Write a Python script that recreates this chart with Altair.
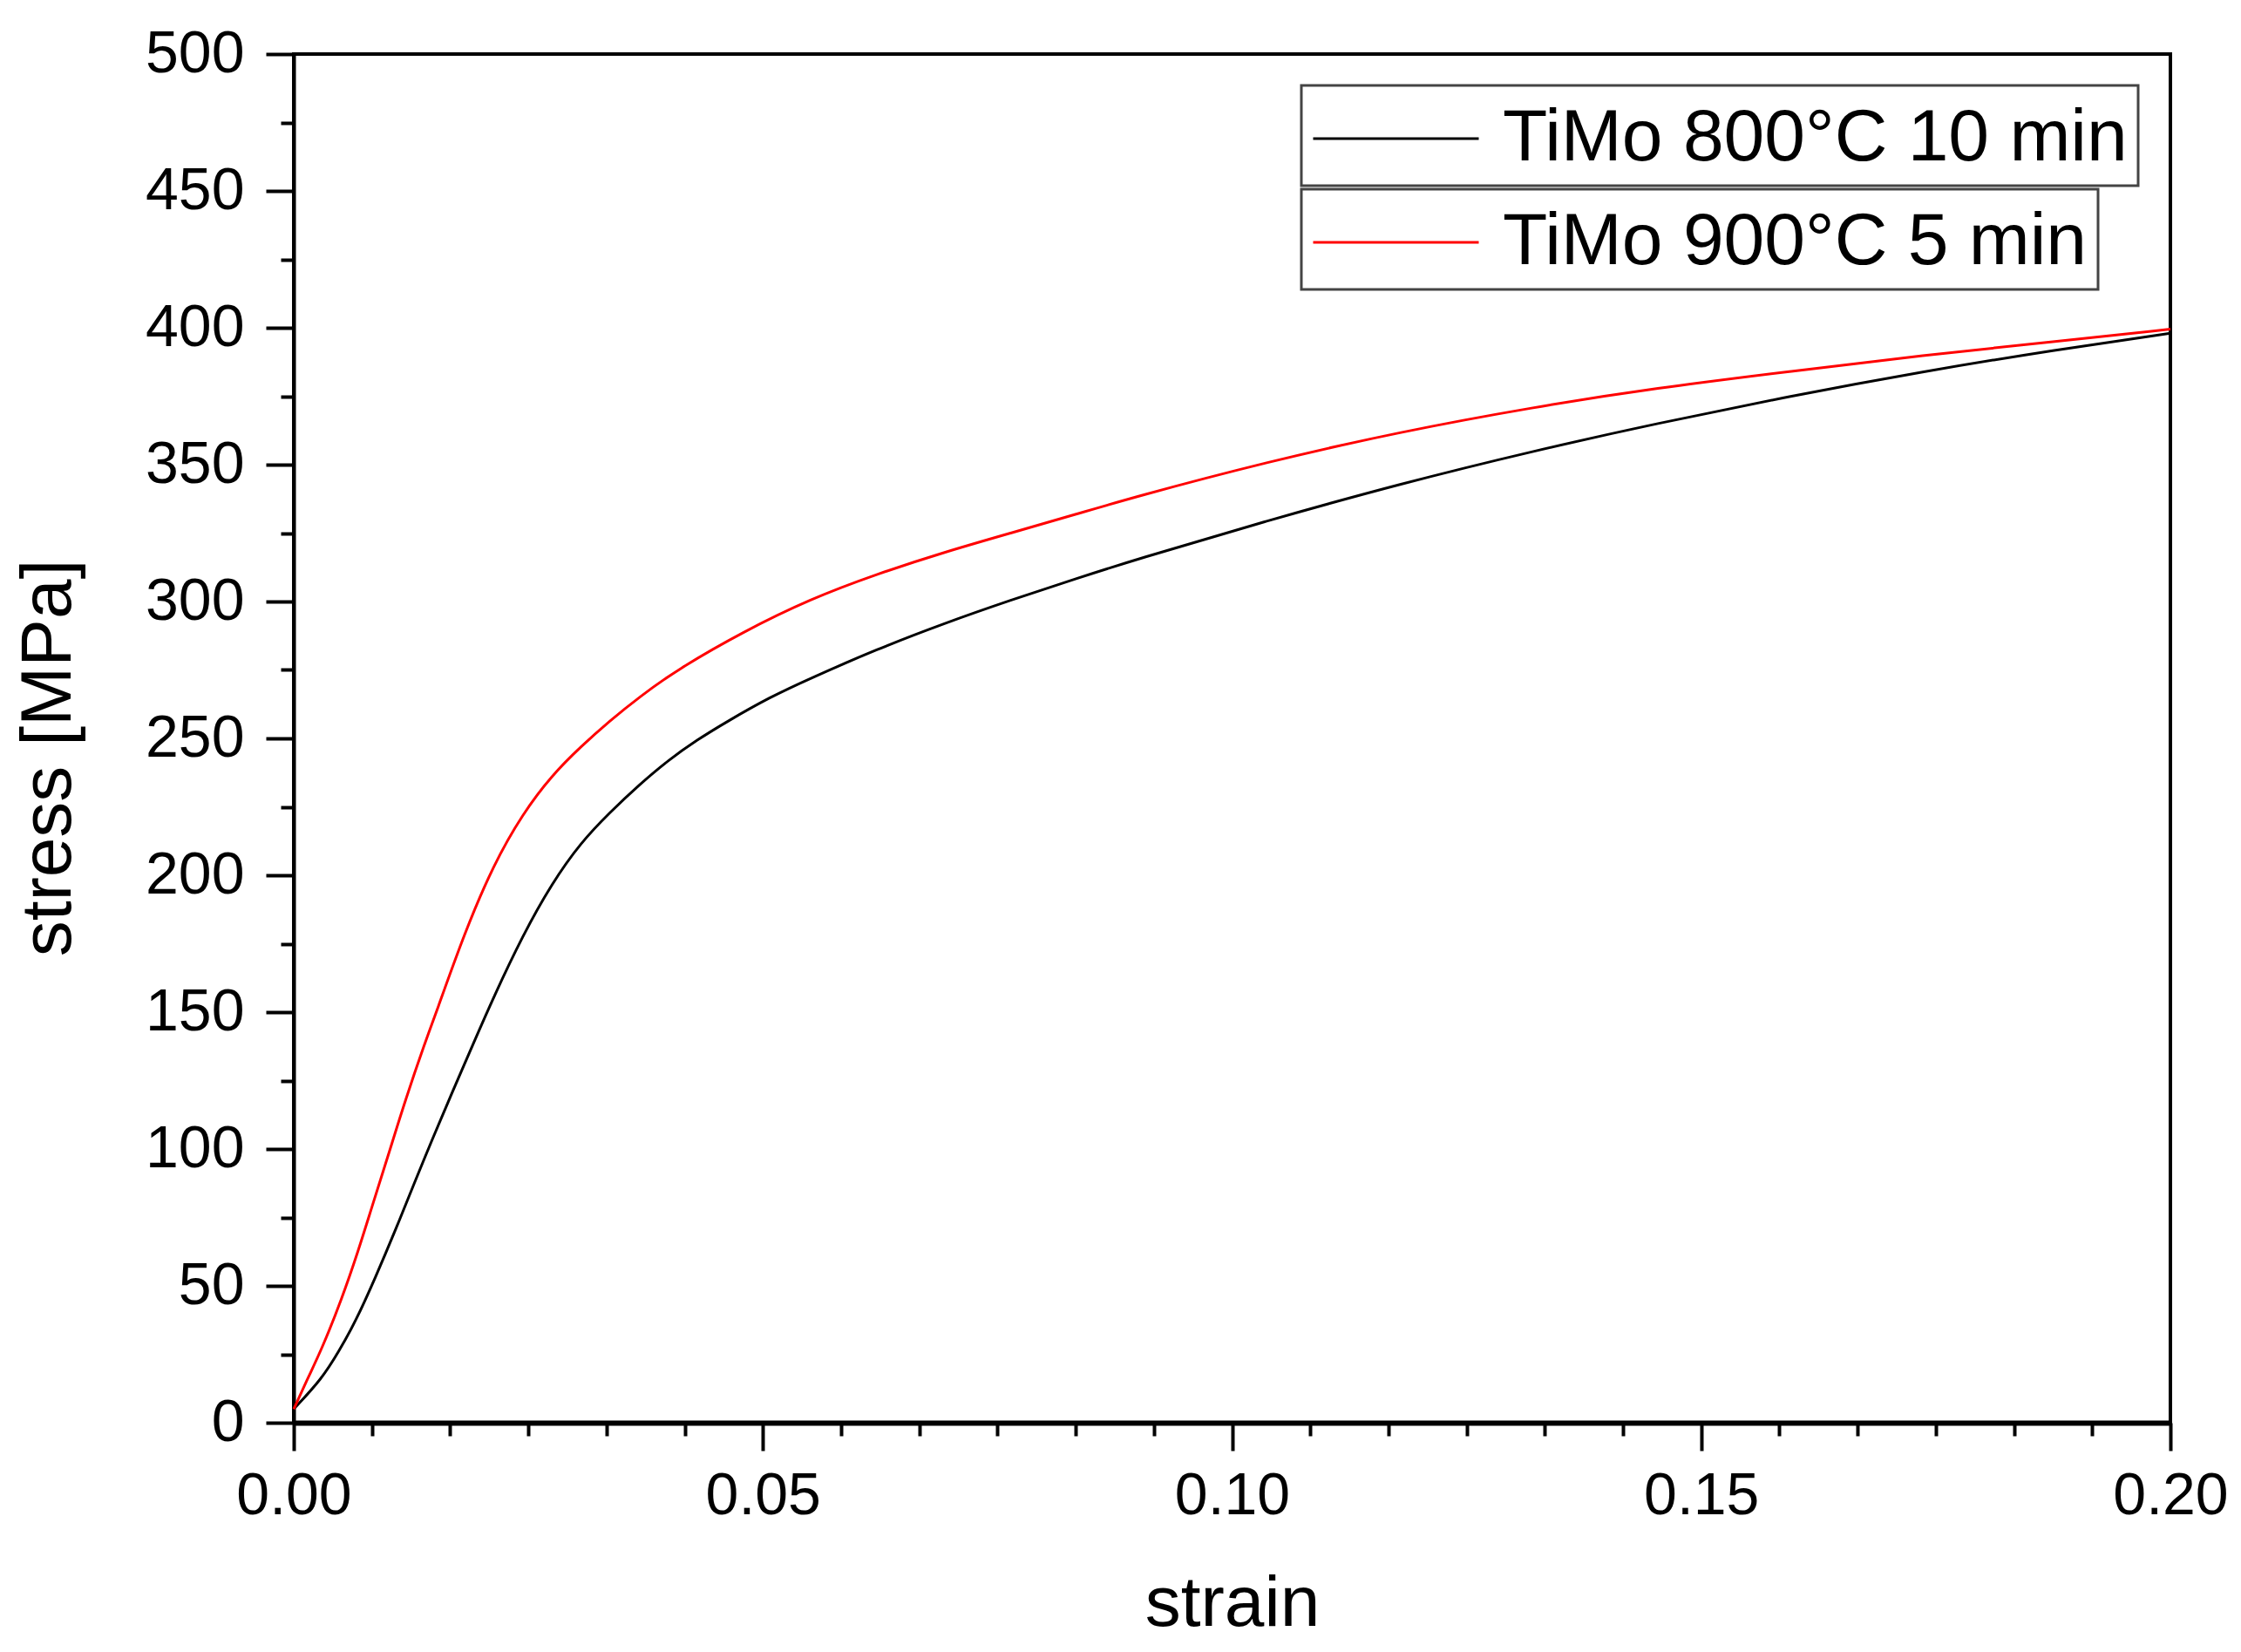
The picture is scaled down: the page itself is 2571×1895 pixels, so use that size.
import altair as alt
import pandas as pd

# ---- data ----
series_names = ["TiMo 800°C 10 min", "TiMo 900°C 5 min"]
series_colors = ["#000000", "#ff0000"]

strain_800 = [0.0, 0.003, 0.0048, 0.0066, 0.0087, 0.0108, 0.0129, 0.0147, 0.0168, 0.0192,
              0.0213, 0.0244, 0.0275, 0.0306, 0.0337, 0.0368, 0.0399, 0.043, 0.0461, 0.0507,
              0.0551, 0.0621, 0.0693, 0.0764, 0.0835, 0.0894, 0.1037, 0.1179, 0.1321, 0.1452,
              0.1594, 0.1736, 0.1878, 0.2]
stress_800 = [5, 16, 26, 37, 53, 70, 88, 103, 120, 139,
              155.5, 178, 197, 212, 223, 233, 242, 249.5, 256, 265,
              272, 282.5, 292, 300.5, 308.5, 315, 329.5, 343, 355, 365,
              375, 384, 392, 398]

strain_900 = [0.0, 0.0016, 0.003, 0.0051, 0.0069, 0.0083, 0.0101, 0.0119, 0.014, 0.0151,
              0.0182, 0.0213, 0.0244, 0.0275, 0.0306, 0.0337, 0.0368, 0.0408, 0.0479, 0.0551,
              0.0621, 0.0693, 0.0764, 0.0835, 0.0894, 0.1037, 0.1179, 0.1321, 0.1452, 0.1594,
              0.1736, 0.1878, 0.2]
stress_900 = [5, 17, 27, 45, 63, 78.5, 98, 118, 139, 149,
              179, 204, 222.5, 236.5, 247, 256.5, 265, 275, 289, 301,
              310, 318, 325, 332, 338, 351, 362, 371, 378, 384,
              390, 395, 399.5]

x_major = [0.0, 0.05, 0.10, 0.15, 0.20]
x_minor = [round(i * 0.05 / 6, 6) for i in range(25) if i % 6 != 0]
y_major = list(range(0, 501, 50))
y_minor = list(range(25, 500, 50))

df_800 = pd.DataFrame({"strain": strain_800, "stress": stress_800, "series": series_names[0]})
df_900 = pd.DataFrame({"strain": strain_900, "stress": stress_900, "series": series_names[1]})

FONT = "Liberation Sans"
xs = alt.Scale(domain=[0, 0.2], nice=False, zero=False)
ys = alt.Scale(domain=[0, 500], nice=False, zero=False)

x_axis_major = alt.Axis(values=x_major, format=".2f", title="strain", tickSize=32, tickWidth=4,
                        domainWidth=6, labelFontSize=68, labelPadding=18, labelFlush=False,
                        labelOverlap=False, titleFontSize=82, titleY=232,
                        titleBaseline="alphabetic", grid=False)
y_axis_major = alt.Axis(values=y_major, format="d", title="stress [MPa]", tickSize=32, tickWidth=4,
                        domainWidth=4, labelFontSize=68, labelPadding=25, labelFlush=False,
                        labelOverlap=False, titleFontSize=82, titleX=-257, titleY=807,
                        titleBaseline="alphabetic", grid=False)
x_axis_minor = alt.Axis(values=x_minor, title=None, labels=False, domain=False, tickSize=15,
                        tickWidth=4, grid=False, orient="bottom")
y_axis_minor = alt.Axis(values=y_minor, title=None, labels=False, domain=False, tickSize=15,
                        tickWidth=4, grid=False, orient="left")


def legend_for(ly):
    return alt.Legend(orient="none", legendX=1156, legendY=ly, title=None,
                      labelFont=FONT, labelFontSize=84, labelColor="black", labelLimit=0,
                      symbolType="M-1,0H3", symbolSize=9025, symbolStrokeWidth=3,
                      labelOffset=121, padding=12, strokeColor="#444444", fillColor="white")


black = alt.Chart(df_800).mark_line(strokeWidth=3, interpolate="basis").encode(
    x=alt.X("strain:Q", scale=xs, axis=x_axis_major),
    y=alt.Y("stress:Q", scale=ys, axis=y_axis_major),
    color=alt.Color("series:N", scale=alt.Scale(domain=[series_names[0]], range=[series_colors[0]]),
                    legend=legend_for(36)),
)
red = alt.Chart(df_900).mark_line(strokeWidth=3, interpolate="basis").encode(
    x=alt.X("strain:Q", scale=xs, axis=None),
    y=alt.Y("stress:Q", scale=ys, axis=None),
    color=alt.Color("series:N", scale=alt.Scale(domain=[series_names[1]], range=[series_colors[1]]),
                    legend=legend_for(155)),
)
minor = alt.Chart(df_800).mark_point(opacity=0).encode(
    x=alt.X("strain:Q", scale=xs, axis=x_axis_minor),
    y=alt.Y("stress:Q", scale=ys, axis=y_axis_minor),
)

chart = (
    alt.layer(black, red, minor)
    .resolve_scale(color="independent")
    .resolve_axis(x="independent", y="independent")
    .properties(width=2153, height=1570,
                autosize=alt.AutoSizeParams(type="none"),
                padding={"left": 329, "top": 54, "right": 72, "bottom": 250},
                background="white")
    .configure_view(stroke="black", strokeWidth=4)
    .configure_axis(labelFont=FONT, titleFont=FONT, labelColor="black", titleColor="black",
                    titleFontWeight="normal", domainColor="black", tickColor="black")
    .configure_legend(strokeWidth=3)
)

chart.save("out.html", embed_options={"renderer": "svg", "actions": False})
